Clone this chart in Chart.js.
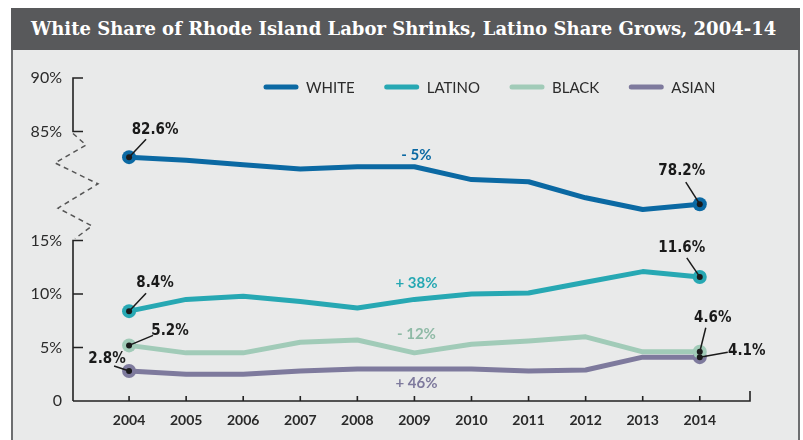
<!DOCTYPE html>
<html>
<head>
<meta charset="utf-8">
<script src="https://cdn.jsdelivr.net/npm/chart.js@4.4.1/dist/chart.umd.min.js"></script>
<style>
  html, body { margin: 0; padding: 0; background: #fff; }
  #wrap { position: relative; width: 803px; height: 440px; overflow: hidden; }
  #panel { position: absolute; left: 11px; top: 8px; width: 785px; height: 440px;
           background: #e9eaea; border-left: 2px solid #6d6e70; border-right: 2px solid #6d6e70; }
  #header { position: absolute; left: 11px; top: 8px; width: 789px; height: 42px; background: #58595b;
            color: #fff; font-family: "DejaVu Serif", serif; font-weight: bold; font-size: 18px;
            line-height: 42px; padding-left: 20px; box-sizing: border-box; white-space: nowrap; }
  #chartBox { position: absolute; left: 0; top: 0; width: 803px; height: 440px; }
</style>
</head>
<body>
<div id="wrap">
  <div id="panel"></div>
  <div id="header">White Share of Rhode Island Labor Shrinks, Latino Share Grows, 2004-14</div>
  <div id="chartBox"><canvas id="laborChart"></canvas></div>
</div>
<script>
const years = [2004, 2005, 2006, 2007, 2008, 2009, 2010, 2011, 2012, 2013, 2014];
const whiteShare  = [82.6, 82.3, 81.9, 81.5, 81.7, 81.7, 80.5, 80.3, 78.8, 77.7, 78.2];
const latinoShare = [8.4, 9.5, 9.8, 9.3, 8.7, 9.5, 10.0, 10.1, 11.1, 12.1, 11.6];
const blackShare  = [5.2, 4.5, 4.5, 5.5, 5.7, 4.5, 5.3, 5.6, 6.0, 4.6, 4.6];
const asianShare  = [2.8, 2.5, 2.5, 2.8, 3.0, 3.0, 3.0, 2.8, 2.9, 4.1, 4.1];
const seriesNames = ["WHITE", "LATINO", "BLACK", "ASIAN"];
const changeLabels = ["- 5%", "+ 38%", "- 12%", "+ 46%"];
const upperTicks = [85, 90];
const lowerTicks = [0, 5, 10, 15];

const colors = ["#0b69a3", "#27a8b3", "#a1cbb8", "#7e7a9d"];
const changeColors = ["#0b69a3", "#27a8b3", "#8fbaa6", "#7e7a9d"];

const toPoints = arr => arr.map((v, i) => ({x: years[i], y: v}));
const endRadius = arr => arr.map((v, i) => (i === 0 || i === arr.length - 1) ? 7 : 0);

// offsets of end labels from their marker: [textDx, textDy, leaderDx, leaderDy]
const endLabelOffsets = [
    [[26, -27, 17, -18], [-18, -33, -14, -22]],
    [[26, -28, 17, -18], [-18, -29, -13, -19]],
    [[41, -14, 24, -10], [13, -34, 6, -24]],
    [[-22, -12, -15, -5], [47, -6, 28, -5]]
];
const changeOffsets = [-12, -16, -19, 14];

const annotatePlugin = {
    id: "annotate",
    beforeDatasetsDraw(chart) {
        const ctx = chart.ctx;
        const xs = chart.scales.x, yt = chart.scales.yTop, yb = chart.scales.yBot;
        const ax = chart.chartArea.left + 1;
        ctx.save();
        ctx.strokeStyle = "#222";
        ctx.lineWidth = 1.6;
        // upper bracket
        const y90 = yt.getPixelForValue(90), y85 = yt.getPixelForValue(85);
        ctx.beginPath();
        ctx.moveTo(ax + 10, y90); ctx.lineTo(ax, y90); ctx.lineTo(ax, y85); ctx.lineTo(ax + 10, y85);
        ctx.stroke();
        // lower axis
        const y15 = yb.getPixelForValue(15), y0 = yb.getPixelForValue(0);
        ctx.beginPath();
        ctx.moveTo(ax + 10, y15); ctx.lineTo(ax, y15); ctx.lineTo(ax, y0);
        lowerTicks.slice(1).forEach(t => {
            const y = yb.getPixelForValue(t);
            ctx.moveTo(ax, y); ctx.lineTo(ax + 10, y);
        });
        // x axis
        const xr = chart.chartArea.right;
        ctx.moveTo(ax, y0); ctx.lineTo(xr, y0); ctx.lineTo(xr, y0 - 10);
        years.forEach(yr => {
            const x = xs.getPixelForValue(yr);
            ctx.moveTo(x, y0); ctx.lineTo(x, y0 - 5);
        });
        ctx.stroke();
        // break zigzag
        const zz = [[0, 0], [13, 0.11], [-18, 0.28], [25, 0.48], [-15, 0.71], [19, 0.88], [2, 1]];
        ctx.setLineDash([5, 4]);
        ctx.strokeStyle = "#555";
        ctx.lineWidth = 1.5;
        ctx.beginPath();
        zz.forEach(([dx, f], i) => {
            const px = ax + dx, py = y85 + 2 + f * (y15 - y85 - 4);
            if (i === 0) ctx.moveTo(px, py); else ctx.lineTo(px, py);
        });
        ctx.stroke();
        ctx.restore();
    },
    afterDatasetsDraw(chart) {
        const ctx = chart.ctx;
        ctx.save();
        chart.data.datasets.forEach((ds, di) => {
            const meta = chart.getDatasetMeta(di);
            const pts = meta.data;
            [0, pts.length - 1].forEach((idx, k) => {
                const p = pts[idx];
                const [tdx, tdy, ldx, ldy] = endLabelOffsets[di][k];
                ctx.strokeStyle = "#1a1a1a";
                ctx.lineWidth = 1.5;
                ctx.beginPath();
                ctx.moveTo(p.x, p.y);
                ctx.lineTo(p.x + ldx, p.y + ldy);
                ctx.stroke();
                ctx.fillStyle = "#1a1a1a";
                ctx.beginPath();
                ctx.arc(p.x, p.y, 3, 0, Math.PI * 2);
                ctx.fill();
                ctx.font = "bold 15px 'DejaVu Sans Condensed', 'DejaVu Sans', sans-serif";
                ctx.textAlign = "center";
                ctx.textBaseline = "middle";
                ctx.fillText(ds.data[idx].y.toFixed(1) + "%", p.x + tdx, p.y + tdy);
            });
            // change label near 2009
            const mid = pts[5];
            ctx.fillStyle = changeColors[di];
            ctx.font = "bold 15px Lato, sans-serif";
            ctx.textAlign = "center";
            ctx.textBaseline = "middle";
            ctx.fillText(changeLabels[di], mid.x + 2, mid.y + changeOffsets[di]);
        });
        // legend
        ctx.font = "15px Lato, sans-serif";
        ctx.textAlign = "left";
        ctx.textBaseline = "middle";
        let lx = 264;
        const ly = 87;
        seriesNames.forEach((name, i) => {
            ctx.strokeStyle = colors[i];
            ctx.lineWidth = 5;
            ctx.lineCap = "round";
            ctx.beginPath();
            ctx.moveTo(lx + 2, ly); ctx.lineTo(lx + 32, ly);
            ctx.stroke();
            ctx.fillStyle = "#2b2b2b";
            ctx.fillText(name, lx + 42, ly + 1);
            lx += 42 + ctx.measureText(name).width + 30;
        });
        ctx.restore();
    }
};

function makeSet(label, arr, i, axis) {
    return {
        label,
        data: toPoints(arr),
        yAxisID: axis,
        borderColor: colors[i],
        backgroundColor: colors[i],
        borderWidth: 5,
        borderCapStyle: "round",
        borderJoinStyle: "round",
        pointRadius: endRadius(arr),
        pointBackgroundColor: colors[i],
        pointBorderWidth: 0,
        tension: 0,
        clip: false
    };
}

const ctx = document.getElementById("laborChart").getContext("2d");
new Chart(ctx, {
    type: "line",
    data: {
        datasets: [
            makeSet(seriesNames[0], whiteShare, 0, "yTop"),
            makeSet(seriesNames[1], latinoShare, 1, "yBot"),
            makeSet(seriesNames[2], blackShare, 2, "yBot"),
            makeSet(seriesNames[3], asianShare, 3, "yBot")
        ]
    },
    options: {
        responsive: true,
        maintainAspectRatio: false,
        animation: false,
        events: [],
        layout: { padding: { top: 78, right: 53, left: 0, bottom: 0 } },
        plugins: { legend: { display: false }, tooltip: { enabled: false } },
        scales: {
            x: {
                type: "linear",
                min: 2003,
                max: 2014.88,
                grid: { display: false, drawTicks: false },
                border: { display: false },
                afterBuildTicks: s => { s.ticks = years.map(v => ({value: v})); },
                afterFit: s => { s.height = 39; },
                ticks: {
                    padding: 11,
                    color: "#2a2a2a",
                    font: { family: "Lato", size: 14, weight: "bold" },
                    callback: v => String(v)
                }
            },
            yBot: {
                type: "linear",
                position: "left",
                stack: "v",
                stackWeight: 17.2,
                min: 0,
                max: 17.2,
                grid: { display: false, drawTicks: false },
                border: { display: false },
                afterBuildTicks: s => { s.ticks = lowerTicks.map(v => ({value: v})); },
                afterFit: s => { s.width = 72; },
                ticks: {
                    padding: 10,
                    color: "#2b2b2b",
                    font: { family: "Lato", size: 16 },
                    callback: v => v === 0 ? "0" : v + "%"
                }
            },
            yTop: {
                type: "linear",
                position: "left",
                stack: "v",
                stackWeight: 13,
                min: 77,
                max: 90,
                grid: { display: false, drawTicks: false },
                border: { display: false },
                afterBuildTicks: s => { s.ticks = upperTicks.map(v => ({value: v})); },
                afterFit: s => { s.width = 72; },
                ticks: {
                    padding: 10,
                    color: "#2b2b2b",
                    font: { family: "Lato", size: 16 },
                    callback: v => v + "%"
                }
            }
        }
    },
    plugins: [annotatePlugin]
});
</script>
</body>
</html>
